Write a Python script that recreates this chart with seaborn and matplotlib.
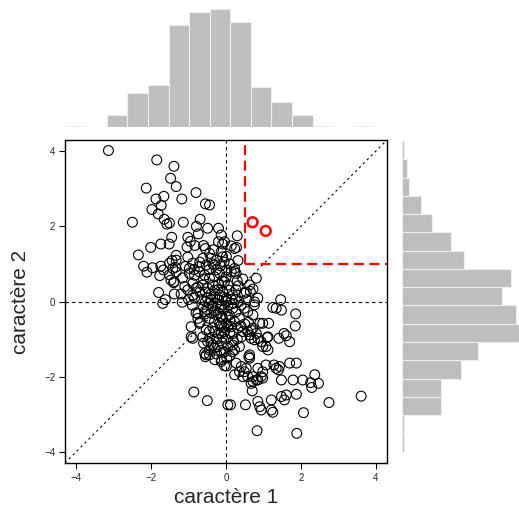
import numpy as np
import pandas as pd
import matplotlib
matplotlib.use("Agg")
import matplotlib.pyplot as plt
import seaborn as sns

sns.set_style("white")
plt.rcParams['font.family'] = ['Liberation Sans', 'DejaVu Sans']

# --- points (caractère 1, caractère 2), grouped by area ---
nw_x = [-3.14, -1.85, -1.39, -1.48, -1.33, -2.13, -0.80, -1.18, -1.66, -1.87,
        -0.55, -0.44, -1.73, -1.98, -1.81, -2.50, -1.65, -1.58, -1.51, -1.14,
        -0.69, -0.79, -0.49, -0.20, -0.74, -1.02, -1.45, -0.95, -1.74, -1.52,
        -2.01, -2.34, -1.33, -1.04, -0.83, -0.60, -0.33, -0.09, -1.02, -2.20,
        -2.11, -1.74, -1.44, -1.77, -1.51, -1.35, -1.08, -1.40, -1.80, -1.38,
        -1.62, -0.20, -0.13, -1.33, -1.51, -1.96, -0.55, -0.44, -0.62, -0.40,
        -0.89, -0.98, -0.71, -0.53, -0.31, -0.26]
nw_y = [4.02, 3.77, 3.60, 3.28, 3.06, 3.02, 2.90, 2.73, 2.80, 2.73,
        2.60, 2.57, 2.56, 2.45, 2.33, 2.11, 2.19, 2.06, 2.09, 2.11,
        2.19, 2.00, 1.95, 1.95, 1.80, 1.71, 1.71, 1.60, 1.53, 1.53,
        1.44, 1.24, 1.23, 1.45, 1.49, 1.49, 1.38, 1.53, 1.18, 0.94,
        0.78, 0.94, 1.09, 0.69, 0.71, 0.91, 0.94, 0.50, 0.24, 0.20,
        0.05, 1.59, 1.32, 1.10, 1.02, 0.90, 1.41, 1.28, 1.15, 1.15,
        1.02, 0.88, 0.93, 0.97, 0.97, 0.84]

ne_x = [0.30, 0.14, 0.28, 0.01, 0.32, 0.23, 0.27, 0.81, 0.63, 0.33,
        0.65, 0.54, 1.46, 0.85, -0.13, -0.04, 0.23, -0.09]
ne_y = [1.75, 1.48, 1.44, 1.20, 1.09, 0.80, 0.75, 0.62, 0.44, 0.42,
        0.27, 0.25, 0.05, 0.09, 1.77, 1.59, 1.41, 1.19]

w_x = [-1.67, -1.42, -1.33, -1.47, -1.38, -1.16, -0.98, -0.84, -0.71, -0.57,
       -0.44, -0.31, -0.17, -0.89, -0.75, -0.62, -0.49, -0.35, -0.22, -1.02,
       -0.89, -1.69, -1.17, -0.17, -0.13, -0.57, -0.40, -0.26, -0.13, -0.44,
       -0.31, -0.17, -0.71, -0.93, -0.53, -0.31, -0.13, -0.93, -0.62, -0.44]
w_y = [0.84, 0.88, 0.79, 0.57, 0.53, 0.63, 0.75, 0.70, 0.79, 0.70,
       0.62, 0.66, 0.75, 0.48, 0.39, 0.44, 0.35, 0.44, 0.31, 0.31,
       0.17, -0.05, -0.02, 0.17, -0.09, -0.27, -0.31, -0.36, -0.40, -0.45,
       -0.54, -0.58, -0.58, -0.67, -0.76, -0.80, -0.85, -0.94, -0.94, -0.98]

sw_x = [-0.84, -0.75, -0.56, -0.69, -0.89, -0.49, -0.60, -0.35, -0.22, -0.31,
        -0.53, -0.44, -0.55, -0.13, -0.04, -0.86, -0.50, 0.05, -0.40, -0.44,
        -0.57]
sw_y = [0.09, -0.33, -0.33, -0.55, -0.98, -1.07, -1.11, -1.16, -1.20, -1.24,
        -1.42, -1.42, -1.47, -1.60, -1.71, -2.41, -2.64, -2.75, -1.11, -1.29,
        -1.38]

se_x = [0.18, 0.23, 0.36, 0.17, 0.67, 0.76, 0.85, 0.94, 1.07, 1.12,
        1.41, 1.70, 0.61, 0.63, 0.27, 0.41, 0.54, 0.36, 0.23, 0.45,
        0.85, 0.98, 0.94, 0.85, 0.72, 0.98, 1.07, 1.34, 1.43, 1.70,
        1.88, 1.48, 1.79, 2.05, 0.70, 0.12, 0.52, 0.85, 0.90, 0.94,
        1.21, 1.48, 1.56, 1.61, 1.88, 1.21, 0.76, 1.25, 1.48, 1.86,
        1.85, 1.14, 0.90, 1.55, 1.61, 1.10, 0.98, 0.41, 0.58, 0.67,
        0.63, 1.28, 1.40, 0.01, 0.49, 0.58, 0.81, 0.72, 0.67, 2.37,
        2.47, 2.26, 2.29, 1.25, 2.07, 2.75, 3.61, 0.83, 1.89]
se_y = [-1.16, -1.29, -1.20, -1.34, -0.98, -1.02, -0.98, -1.07, -1.20, -1.29,
        -0.98, -1.07, -1.47, -1.51, -1.64, -1.73, -1.78, -1.87, -1.95, -2.00,
        -1.78, -1.87, -2.00, -2.09, -2.13, -2.04, -1.69, -1.78, -1.73, -1.64,
        -1.64, -2.09, -2.09, -2.09, -2.38, -2.75, -2.75, -2.66, -2.80, -2.89,
        -2.62, -2.53, -2.62, -2.49, -2.47, -2.89, -0.01, -0.16, -0.23, -0.33,
        -0.65, -0.58, -0.58, -0.85, -0.91, -0.96, -1.20, -0.94, -0.80, -0.76,
        -1.42, -1.69, -1.82, -1.72, -1.87, -2.00, -2.09, -2.00, -2.18, -1.95,
        -2.18, -2.16, -2.29, -2.95, -2.96, -2.69, -2.52, -3.44, -3.51]

e_x = [0.01, 0.14, 0.23, 0.72, 0.49, 0.27, 0.18, -0.04, 0.05, -0.09,
       0.01, 1.34, 0.98, 0.72, 0.76, 0.49, 0.58, 0.18, 0.27, 0.36,
       0.23, 0.09, 0.01, 0.14, 0.32, 0.45, 0.63, 0.81, 0.72, 1.12,
       -0.04, -0.09]
e_y = [0.84, 0.79, 0.88, 0.33, 0.22, 0.31, 0.17, 0.53, 0.44, 0.26,
       0.09, -0.18, -0.58, -0.36, -0.09, -0.18, -0.27, -0.18, -0.27, -0.45,
       -0.54, -0.36, -0.58, -0.67, -0.71, -0.80, -0.89, -0.85, -0.71, -0.94,
       -0.80, -0.94]

# dense core (estimated)
core_x = [-0.50, -0.40, -0.30, -0.20, -0.10, 0.00, 0.05, -0.05, -0.15, -0.25,
          -0.35, -0.45, -0.55, -0.65, -0.60, -0.50, -0.30, -0.20, -0.10, 0.00,
          0.10, 0.05, -0.05, 0.10, 0.00, -0.10, 0.05, -0.05, 0.10, -0.15,
          -0.25, -0.20, -0.10, 0.00, 0.08, -0.30, -0.40, -0.55, -0.70, -0.80,
          -0.60, -0.45, -0.35, -0.25, -0.15, -0.05, 0.10, -0.70, -0.85, -1.10,
          -1.20, -1.00, -0.90, -0.80, -0.75, 0.15, 0.25, 0.35, 0.40, 0.20,
          0.30, 0.45, 0.55, 0.60, 0.50, 0.40, 0.20, 0.30, 0.20, -0.20,
          -0.35, -0.15, -0.45, -0.25, -0.12, 0.02, -0.30]
core_y = [0.10, 0.05, 0.12, 0.05, 0.12, 0.00, -0.10, -0.20, -0.15, -0.05,
          -0.12, -0.05, 0.00, 0.05, -0.15, -0.22, -0.25, -0.30, -0.45, -0.40,
          -0.50, -0.65, -0.70, -0.85, -1.00, -1.10, -1.20, -1.35, -1.45, -1.30,
          -1.40, 0.45, 0.55, 0.65, 0.30, 0.30, 0.20, 0.25, 0.25, 0.35,
          0.60, 0.85, 1.00, 1.10, 0.95, 1.05, 1.00, 1.05, 0.85, 0.40,
          0.20, 0.05, -0.10, -0.30, -0.45, 0.05, 0.05, 0.00, -0.10, -0.05,
          0.55, 0.60, 0.05, -0.55, -0.60, -0.65, -0.85, -1.00, -1.05, -0.85,
          -0.70, -0.65, -0.80, -1.00, -1.55, -1.50, -1.55]

# highlighted points (red)
hi_x = [0.71, 1.06]
hi_y = [2.11, 1.88]

# thresholds of the red quadrant
x_cut = 0.5
y_cut = 1.0

# marginal histogram counts (bins of 0.5)
x_edges = [-3.5, -3.0, -2.5, -2.0, -1.5, -1.0, -0.5, 0.0, 0.5, 1.0, 1.5, 2.0, 2.5, 3.0, 3.5, 4.0]
x_counts = [1, 0, 11, 32, 40, 97, 109, 112, 99, 38, 23, 11, 1, 0, 1]
y_edges = [-4.0, -3.5, -3.0, -2.5, -2.0, -1.5, -1.0, -0.5, 0.0, 0.5, 1.0, 1.5, 2.0, 2.5, 3.0, 3.5, 4.0, 4.5]
y_counts = [1, 1, 27, 27, 41, 53, 82, 80, 70, 76, 43, 34, 21, 13, 5, 3, 1]

df = pd.DataFrame({
    'c1': nw_x + ne_x + w_x + sw_x + se_x + e_x + core_x,
    'c2': nw_y + ne_y + w_y + sw_y + se_y + e_y + core_y,
})
hi = pd.DataFrame({'c1': hi_x, 'c2': hi_y})
xh = pd.DataFrame({'mid': (np.array(x_edges[:-1]) + np.array(x_edges[1:])) / 2, 'n': x_counts})
yh = pd.DataFrame({'mid': (np.array(y_edges[:-1]) + np.array(y_edges[1:])) / 2, 'n': y_counts})

W, H = 519, 513
fig = plt.figure(figsize=(W / 100, H / 100), dpi=100)

ax = fig.add_axes([65 / W, 50 / H, 322 / W, 323 / H])
lim = 4.3
ax.set_xlim(-lim, lim)
ax.set_ylim(-lim, lim)

# reference lines
ax.axhline(0, color='black', lw=0.8, ls=(0, (3, 3)), zorder=1)
ax.axvline(0, color='black', lw=0.8, ls=(0, (3, 3)), zorder=1)
ax.axline((0, 0), slope=1, color='black', lw=0.8, ls=(0, (2, 3)), zorder=1)
ax.vlines(x_cut, y_cut, lim, color='red', lw=1.6, ls=(0, (4.5, 2.5)), zorder=1)
ax.hlines(y_cut, x_cut, lim, color='red', lw=1.6, ls=(0, (4.5, 2.5)), zorder=1)

sns.scatterplot(data=df, x='c1', y='c2', ax=ax, marker='o', s=50,
                facecolor='none', edgecolor='black', linewidth=0.8, zorder=3)
sns.scatterplot(data=hi, x='c1', y='c2', ax=ax, marker='o', s=50,
                facecolor='none', edgecolor='red', linewidth=1.8, zorder=4)

ax.set_xticks([-4, -2, 0, 2, 4])
ax.set_yticks([-4, -2, 0, 2, 4])
ax.tick_params(direction='out', length=4, width=0.8, labelsize=7, color='black',
               bottom=True, left=True, pad=3)
for s in ax.spines.values():
    s.set_color('black')
    s.set_linewidth(1.0)
ax.set_xlabel('caractère 1', fontsize=15, labelpad=4)
ax.set_ylabel('caractère 2', fontsize=15, labelpad=10)

# top marginal histogram
ax_top = fig.add_axes([65.7 / W, (H - 126.7) / H, 308.6 / W, 118 / H])
sns.histplot(data=xh, x='mid', weights='n', bins=x_edges,
             color='#bebebe', edgecolor='#ededed', linewidth=0.8, alpha=1, ax=ax_top)
ax_top.set_xlim(x_edges[0], x_edges[-1])
ax_top.set_ylim(0, max(x_counts))
ax_top.axis('off')

# right marginal histogram
ax_right = fig.add_axes([402.3 / W, (H - 451.7) / H, 117 / W, 310.7 / H])
sns.histplot(data=yh, y='mid', weights='n', bins=y_edges,
             color='#bebebe', edgecolor='#ededed', linewidth=0.8, alpha=1, ax=ax_right)
ax_right.set_ylim(y_edges[0], y_edges[-1])
ax_right.set_xlim(0, max(y_counts))
ax_right.axis('off')

fig.savefig('out.png', dpi=100)
plt.close()
